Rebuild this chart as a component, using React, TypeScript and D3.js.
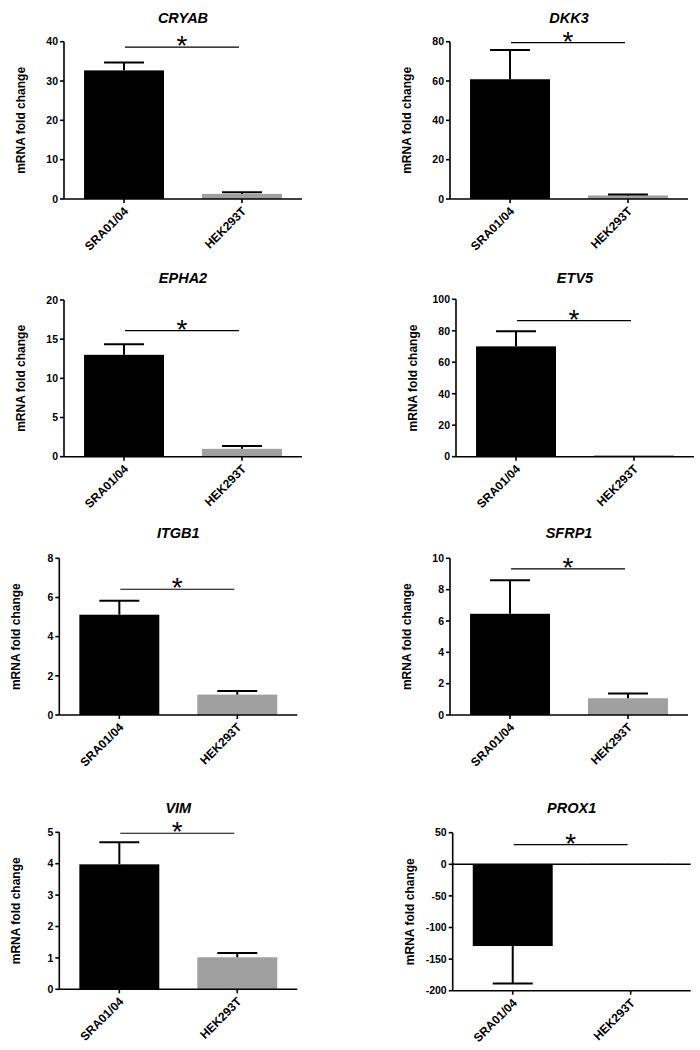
import React from "react";
import * as d3 from "d3";

// ---- data ----
const genes = ["CRYAB", "DKK3", "EPHA2", "ETV5", "ITGB1", "SFRP1", "VIM", "PROX1"];
const groups = ["SRA01/04", "HEK293T"];
const sraMean = [32.7, 60.9, 13.0, 70.1, 5.12, 6.46, 3.98, -129.3];
const sraErr = [2.0, 14.9, 1.35, 9.6, 0.71, 2.14, 0.7, 59.5];
const hekMean = [1.3, 1.8, 1.0, 1.0, 1.04, 1.07, 1.02, 1.0];
const hekErr = [0.4, 0.5, 0.35, 0, 0.19, 0.31, 0.14, 0];
const yMin = [0, 0, 0, 0, 0, 0, 0, -200];
const yMax = [40, 80, 20, 100, 8, 10, 5, 50];
const yStep = [10, 20, 5, 20, 2, 2, 1, 50];
const sigLevel = [38.6, 79.5, 16.1, 86.4, 6.42, 9.32, 4.97, 31.2];

// ---- layout ----
const axisLeft = [64, 450, 64, 456, 59.3, 450, 59.3, 452.7];
const axisTop = [41.7, 41.7, 300, 299.3, 558.3, 558.3, 832.3, 832.7];
const axisBottom = [199, 199, 456.7, 456.7, 715, 715, 989.3, 990.7];
const titleY = [22.7, 22.7, 282.7, 282.7, 538.3, 538.3, 812.7, 812.7];
const axisWidth = 238;
const FONT = "'Liberation Sans', Arial, Helvetica, sans-serif";
const colors = ["#000000", "#a0a0a0"];

function Panel({ i }: { i: number }) {
  const x0 = axisLeft[i];
  const x = d3
    .scaleBand<string>()
    .domain(groups)
    .range([x0, x0 + axisWidth])
    .paddingInner(0.322)
    .paddingOuter(0.17);
  const y = d3.scaleLinear().domain([yMin[i], yMax[i]]).range([axisBottom[i], axisTop[i]]);
  const ticks = d3.range(yMin[i], yMax[i] + yStep[i] / 2, yStep[i]);
  const bw = x.bandwidth();
  const means = [sraMean[i], hekMean[i]];
  const errs = [sraErr[i], hekErr[i]];
  const y0 = y(0);
  const yb = axisBottom[i];
  const c1 = (x(groups[0]) as number) + bw / 2;
  const c2 = (x(groups[1]) as number) + bw / 2;
  const sy = y(sigLevel[i]);
  return (
    <g>
      <text
        x={x0 + 119}
        y={titleY[i]}
        textAnchor="middle"
        fontFamily={FONT}
        fontWeight="bold"
        fontStyle="italic"
        fontSize={14.5}
      >
        {genes[i]}
      </text>
      {/* bars */}
      {groups.map((g, k) => {
        const v = means[k];
        const top = Math.min(y(v), y0);
        const h = Math.abs(y(v) - y0);
        return (
          <rect key={g} x={x(g)} y={top} width={bw} height={Math.max(h, 0.8)} fill={colors[k]} />
        );
      })}
      {/* error bars */}
      {groups.map((g, k) => {
        if (!errs[k]) return null;
        const v = means[k];
        const e = v >= 0 ? v + errs[k] : v - errs[k];
        const cx = (x(g) as number) + bw / 2;
        return (
          <g key={g} stroke="#000" strokeWidth={2}>
            <line x1={cx} x2={cx} y1={y(v)} y2={y(e)} />
            <line x1={cx - bw / 4} x2={cx + bw / 4} y1={y(e)} y2={y(e)} />
          </g>
        );
      })}
      {/* y axis */}
      <line x1={x0} x2={x0} y1={axisTop[i]} y2={yb} stroke="#000" strokeWidth={1.6} />
      {ticks.map((t) => (
        <g key={t}>
          <line x1={x0 - 4} x2={x0} y1={y(t)} y2={y(t)} stroke="#000" strokeWidth={1.6} />
          <text
            x={x0 - 6}
            y={y(t)}
            dy="0.36em"
            textAnchor="end"
            fontFamily={FONT}
            fontWeight="bold"
            fontSize={10.5}
          >
            {t}
          </text>
        </g>
      ))}
      {/* x axis */}
      <line x1={x0} x2={x0 + axisWidth} y1={yb} y2={yb} stroke="#000" strokeWidth={1.6} />
      {yMin[i] < 0 && (
        <line x1={x0} x2={x0 + axisWidth} y1={y0} y2={y0} stroke="#000" strokeWidth={1.6} />
      )}
      {groups.map((g) => {
        const cx = (x(g) as number) + bw / 2;
        return (
          <g key={g}>
            <line x1={cx} x2={cx} y1={yb} y2={yb + 4} stroke="#000" strokeWidth={1.6} />
            <text
              transform={`translate(${cx + 5},${yb + 13}) rotate(-45)`}
              textAnchor="end"
              fontFamily={FONT}
              fontWeight="bold"
              fontSize={12}
            >
              {g}
            </text>
          </g>
        );
      })}
      {/* y label */}
      <text
        transform={`translate(${x0 - 39},${(axisTop[i] + yb) / 2}) rotate(-90)`}
        textAnchor="middle"
        fontFamily={FONT}
        fontWeight="bold"
        fontSize={12}
      >
        mRNA fold change
      </text>
      {/* significance */}
      <line x1={c1 + 1} x2={c2 - 3} y1={sy} y2={sy} stroke="#000" strokeWidth={1.2} />
      <text
        x={(c1 + c2) / 2 - 1}
        y={sy + 8}
        textAnchor="middle"
        fontFamily={FONT}
        fontSize={28}
      >
        *
      </text>
    </g>
  );
}

export default function App() {
  return (
    <svg
      width={700}
      height={1050}
      style={{ position: "absolute", left: 0, top: 0, background: "#fff" }}
    >
      <rect width={700} height={1050} fill="#fff" />
      {genes.map((_, i) => (
        <Panel key={i} i={i} />
      ))}
    </svg>
  );
}
